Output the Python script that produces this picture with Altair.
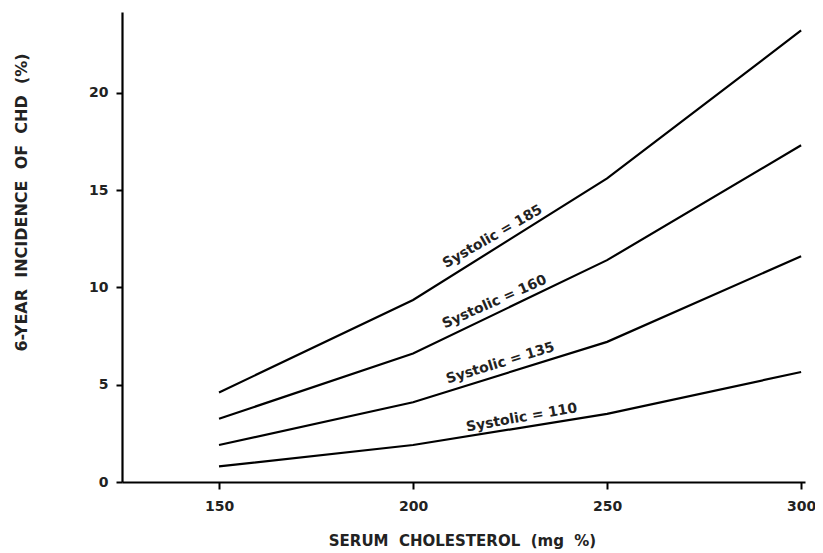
import altair as alt
import pandas as pd

cholesterol = [150, 200, 250, 300]
sys_185 = [4.6, 9.35, 15.6, 23.2]
sys_160 = [3.25, 6.6, 11.4, 17.3]
sys_135 = [1.9, 4.1, 7.2, 11.6]
sys_110 = [0.8, 1.9, 3.5, 5.65]

series = {"185": sys_185, "160": sys_160, "135": sys_135, "110": sys_110}

label_text = ["Systolic = 185", "Systolic = 160", "Systolic = 135", "Systolic = 110"]
label_x = [220.5, 221.0, 222.5, 228.0]
label_y = [12.6, 9.25, 6.1, 3.3]
label_angle = [330, 336, 343, 350]

rows = []
for k, vals in series.items():
    for c, v in zip(cholesterol, vals):
        rows.append({"systolic": k, "chol": c, "inc": v})
df = pd.DataFrame(rows)

lab = pd.DataFrame({"text": label_text, "x": label_x, "y": label_y, "angle": label_angle})

xscale = alt.Scale(domain=[125, 301], nice=False, zero=False)
yscale = alt.Scale(domain=[0, 24.15], nice=False)

font = "DejaVu Sans"
gap = " \u00a0"

lines = alt.Chart(df).mark_line(color="black", strokeWidth=2.2).encode(
    x=alt.X("chol:Q", scale=xscale,
            axis=alt.Axis(values=[150, 200, 250, 300],
                          title=gap.join(["SERUM", "CHOLESTEROL", "(mg", "%)"]),
                          grid=False, domainColor="black", domainWidth=2.2,
                          tickColor="black", tickWidth=2, tickSize=7,
                          labelFont=font, labelFontWeight="bold", labelFontSize=14,
                          labelColor="#222", labelPadding=10,
                          titleFont=font, titleFontWeight="bold", titleFontSize=15,
                          titleColor="#222", titleX=340, titleY=58,
                          titleBaseline="middle")),
    y=alt.Y("inc:Q", scale=yscale,
            axis=alt.Axis(values=[0, 5, 10, 15, 20],
                          title=gap.join(["6-YEAR", "INCIDENCE", "OF", "CHD", "(%)"]),
                          grid=False, domainColor="black", domainWidth=2.2,
                          tickColor="black", tickWidth=2, tickSize=6,
                          labelFont=font, labelFontWeight="bold", labelFontSize=14,
                          labelColor="#222", labelPadding=8,
                          titleFont=font, titleFontWeight="bold", titleFontSize=16,
                          titleColor="#222", titleX=-101, titleY=190,
                          titleBaseline="middle")),
    detail="systolic:N",
)

texts = alt.Chart(lab).mark_text(font=font, fontWeight="bold", fontSize=14, color="#222").encode(
    x=alt.X("x:Q", scale=xscale),
    y=alt.Y("y:Q", scale=yscale),
    text="text:N",
    angle=alt.Angle("angle:Q", scale=None),
)

chart = alt.layer(lines, texts).properties(
    width=683, height=470,
    autosize=alt.AutoSizeParams(type="none"),
    padding={"left": 114, "top": 4, "right": 10, "bottom": 70},
).configure(background="white", view=alt.ViewConfig(stroke=None))

chart.save("out.html", embed_options={"renderer": "svg", "actions": False})
